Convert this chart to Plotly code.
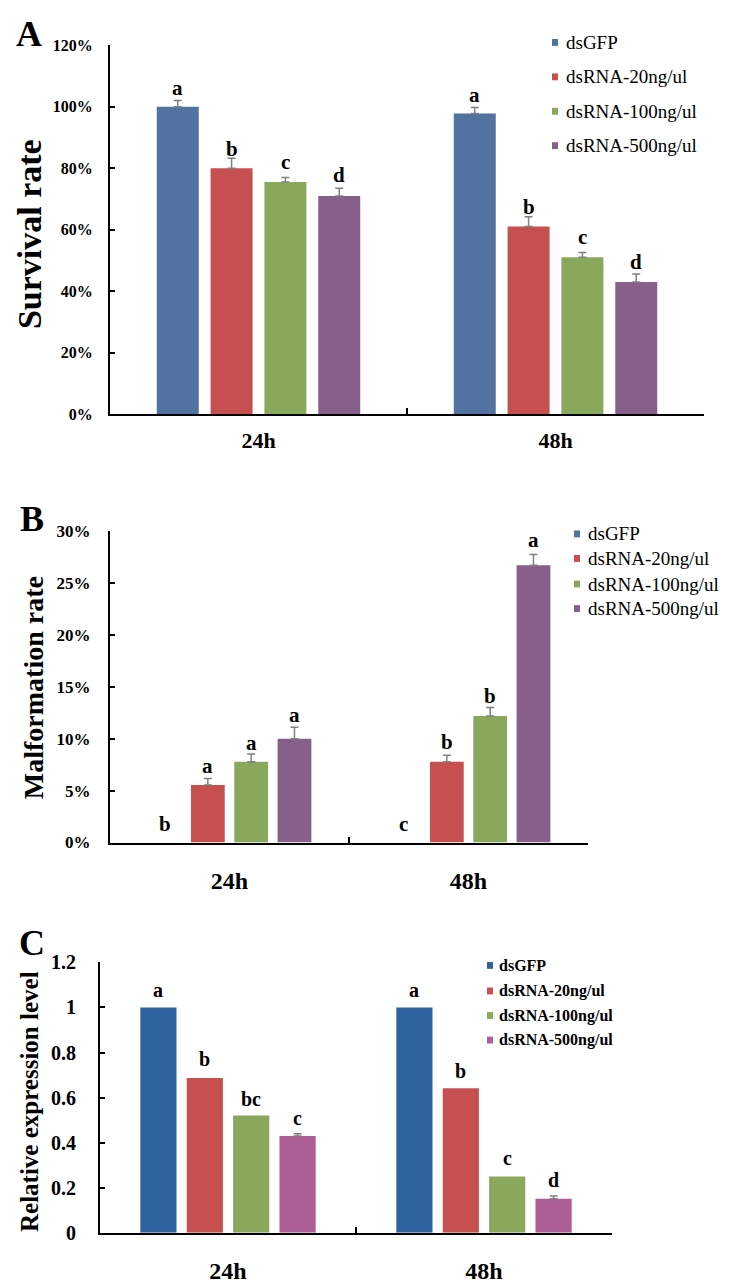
import plotly.graph_objects as go

# ---------------- data ----------------
categories = ["24h", "48h"]
series = ["dsGFP", "dsRNA-20ng/ul", "dsRNA-100ng/ul", "dsRNA-500ng/ul"]

# Panel A: survival rate (fraction), order = series
surv_24h = [1.00, 0.80, 0.755, 0.71]
surv_48h = [0.978, 0.61, 0.51, 0.43]
surv_err_24h = [0.021, 0.033, 0.015, 0.025]
surv_err_48h = [0.020, 0.032, 0.016, 0.026]
surv_letters_24h = ["a", "b", "c", "d"]
surv_letters_48h = ["a", "b", "c", "d"]
surv_letter_y_24h = [1.06, 0.864, 0.819, 0.779]
surv_letter_y_48h = [1.04, 0.675, 0.575, 0.495]

# Panel B: malformation rate (fraction)
malf_24h = [0.0, 0.0553, 0.0777, 0.100]
malf_48h = [0.0, 0.0777, 0.1219, 0.267]
malf_err_24h = [None, 0.0063, 0.0076, 0.011]
malf_err_48h = [None, 0.0063, 0.0080, 0.0104]
malf_letters_24h = ["b", "a", "a", "a"]
malf_letters_48h = ["c", "b", "b", "a"]
malf_letter_y_24h = [0.0183, 0.0736, 0.0963, 0.1226]
malf_letter_y_48h = [0.0183, 0.0966, 0.141, 0.291]

# Panel C: relative expression level
expr_24h = [1.0, 0.687, 0.52, 0.43]
expr_48h = [1.0, 0.642, 0.25, 0.151]
expr_err_24h = [None, None, None, 0.010]
expr_err_48h = [None, None, None, 0.012]
expr_letters_24h = ["a", "b", "bc", "c"]
expr_letters_48h = ["a", "b", "c", "d"]
expr_letter_y_24h = [1.077, 0.77, 0.595, 0.51]
expr_letter_y_48h = [1.077, 0.72, 0.334, 0.232]

# ---------------- styling ----------------
W, H = 729, 1286
FONT = "Liberation Serif"
BARGAP = 0.275
BARGROUPGAP = 0.22
colors_ab = ["#52739F", "#C64F4F", "#8AA85B", "#875F8B"]
colors_c = ["#2F64A0", "#C64F4F", "#8AA85B", "#AE5F94"]
ERR_COLOR = "#808080"


def px_x(x):
    return x / W


def px_y(y):
    return 1 - y / H


panels = [
    dict(key="", label="A", vals=(surv_24h, surv_48h), errs=(surv_err_24h, surv_err_48h),
         letters=(surv_letters_24h, surv_letters_48h), ly=(surv_letter_y_24h, surv_letter_y_48h),
         colors=colors_ab, xdom=(110, 704), ydom=(35, 410), yrange=[0, 1.2], dtick=0.2,
         tickformat=".0%", tickfont=16, tickstand=12, catfont=22, catstand=6,
         title="Survival rate", title_font=34, title_pos=(29, 227), label_pos=(29, 23),
         letter_font=21,
         leg=dict(sq_x=555, text_x=564, rows=[32, 67, 102, 137], font=19, bold=False)),
    dict(key="2", label="B", vals=(malf_24h, malf_48h), errs=(malf_err_24h, malf_err_48h),
         letters=(malf_letters_24h, malf_letters_48h), ly=(malf_letter_y_24h, malf_letter_y_48h),
         colors=colors_ab, xdom=(110, 588), ydom=(529, 846), yrange=[0, 0.30], dtick=0.05,
         tickformat=".0%", tickfont=17, tickstand=14, catfont=24, catstand=16,
         title="Malformation rate", title_font=28, title_pos=(33, 689), label_pos=(32, 517),
         letter_font=21,
         leg=dict(sq_x=577, text_x=586, rows=[532, 557, 583, 608], font=19, bold=False)),
    dict(key="3", label="C", vals=(expr_24h, expr_48h), errs=(expr_err_24h, expr_err_48h),
         letters=(expr_letters_24h, expr_letters_48h), ly=(expr_letter_y_24h, expr_letter_y_48h),
         colors=colors_c, xdom=(100, 612), ydom=(968, 1243), yrange=[0, 1.2], dtick=0.2,
         tickformat="", tickfont=20, tickstand=18, catfont=24, catstand=15,
         title="Relative expression level", title_font=25, title_pos=(29, 1110), label_pos=(32, 948),
         letter_font=20,
         leg=dict(sq_x=490, text_x=497, rows=[971, 997, 1022, 1047], font=16, bold=True)),
]

fig = go.Figure()
annotations = []
shapes = []

for p in panels:
    k = p["key"]
    xa, ya = "x" + k, "y" + k
    v24, v48 = p["vals"]
    e24, e48 = p["errs"]
    for i, name in enumerate(series):
        err = [e24[i], e48[i]]
        has_err = any(e is not None for e in err)
        bar = dict(
            x=categories, y=[v24[i], v48[i]], name=name,
            marker=dict(color=p["colors"][i], line=dict(width=0)),
            xaxis=xa, yaxis=ya, showlegend=False,
        )
        if has_err:
            bar["error_y"] = dict(type="data", symmetric=False,
                                  array=[e if e is not None else 0 for e in err],
                                  arrayminus=[0, 0], color=ERR_COLOR, thickness=1.5, width=4)
        fig.add_trace(go.Bar(**bar))
    # significance letters
    slot = (1 - BARGAP) / len(series)
    for ci, (lets, lys) in enumerate(zip(p["letters"], p["ly"])):
        for i, (t, yv) in enumerate(zip(lets, lys)):
            annotations.append(dict(
                x=ci + (i - (len(series) - 1) / 2) * slot, y=yv, xref=xa, yref=ya,
                xanchor="center", yanchor="middle",
                text="<b>%s</b>" % t, showarrow=False,
                font=dict(family=FONT, size=p["letter_font"], color="black")))
    # axis title
    annotations.append(dict(
        x=px_x(p["title_pos"][0]), y=px_y(p["title_pos"][1]), xref="paper", yref="paper",
        xanchor="center", yanchor="middle",
        text="<b>%s</b>" % p["title"], textangle=-90, showarrow=False,
        font=dict(family=FONT, size=p["title_font"], color="black")))
    # panel label
    annotations.append(dict(
        x=px_x(p["label_pos"][0]), y=px_y(p["label_pos"][1]), xref="paper", yref="paper",
        xanchor="center", yanchor="middle",
        text="<b>%s</b>" % p["label"], showarrow=False,
        font=dict(family=FONT, size=36, color="black")))
    # legend
    lg = p["leg"]
    for i, name in enumerate(series):
        yc = lg["rows"][i]
        shapes.append(dict(type="rect", xref="paper", yref="paper",
                           x0=px_x(lg["sq_x"] - 3), x1=px_x(lg["sq_x"] + 3),
                           y0=px_y(yc + 3.5), y1=px_y(yc - 3.5),
                           fillcolor=p["colors"][i], line=dict(width=0)))
        annotations.append(dict(
            x=px_x(lg["text_x"]), y=px_y(yc), xref="paper", yref="paper",
            xanchor="left", yanchor="middle",
            text=("<b>%s</b>" % name) if lg["bold"] else name, showarrow=False,
            font=dict(family=FONT, size=lg["font"], color="black")))

    xaxis = dict(domain=[px_x(p["xdom"][0]), px_x(p["xdom"][1])], anchor=ya,
                 type="category", showline=True, linecolor="black", linewidth=2,
                 ticks="inside", tickson="boundaries", ticklen=6, tickwidth=2, tickcolor="black",
                 tickfont=dict(family=FONT, size=p["catfont"], color="black", weight="bold"),
                 ticklabelstandoff=p["catstand"], showgrid=False, zeroline=False,
                 fixedrange=True)
    yaxis = dict(domain=[px_y(p["ydom"][1]), px_y(p["ydom"][0])], anchor=xa,
                 range=p["yrange"], dtick=p["dtick"], tick0=0, tickformat=p["tickformat"],
                 showline=True, linecolor="black", linewidth=2,
                 ticks="inside", ticklen=5, tickwidth=2, tickcolor="black",
                 tickfont=dict(family=FONT, size=p["tickfont"], color="black", weight="bold"),
                 ticklabelstandoff=p["tickstand"], showgrid=False, zeroline=False,
                 fixedrange=True)
    fig.layout["xaxis" + k] = xaxis
    fig.layout["yaxis" + k] = yaxis

fig.update_layout(
    width=W, height=H, margin=dict(l=0, r=0, t=0, b=0),
    paper_bgcolor="white", plot_bgcolor="white",
    barmode="group", bargap=BARGAP, bargroupgap=BARGROUPGAP,
    showlegend=False, annotations=annotations, shapes=shapes,
    font=dict(family=FONT, color="black"),
)

fig.write_html("out.html",
               config={"displayModeBar": False},
               post_script="document.body.style.margin='0';document.body.style.overflow='hidden';")
